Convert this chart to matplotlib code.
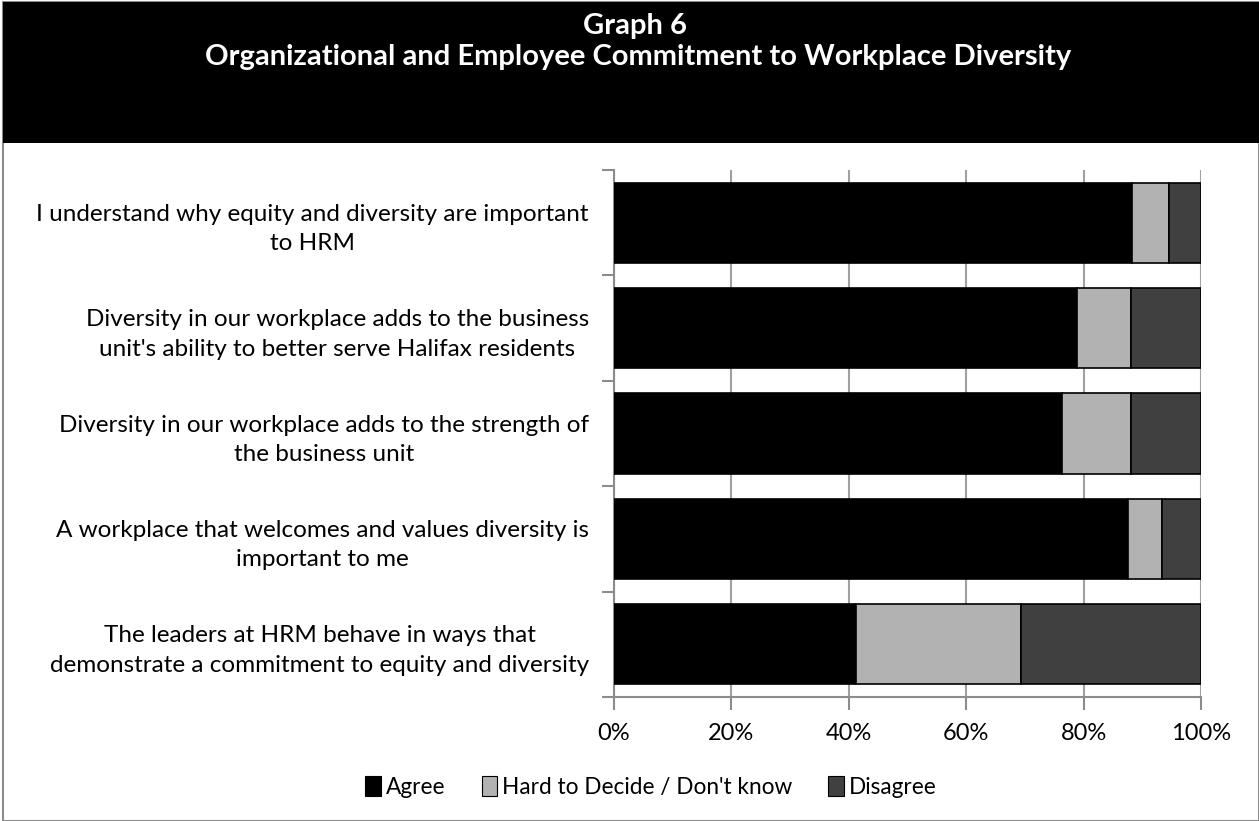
import matplotlib
matplotlib.use("Agg")
import matplotlib.pyplot as plt
from matplotlib.patches import Rectangle, Patch
import numpy as np

categories = [
    "I understand why equity and diversity are important\nto HRM",
    "Diversity in our workplace adds to the business\nunit's ability to better serve Halifax residents",
    "Diversity in our workplace adds to the strength of\nthe business unit",
    "A workplace that welcomes and values diversity is\nimportant to me",
    "The leaders at HRM behave in ways that\ndemonstrate a commitment to equity and diversity",
]
agree = [88.2, 78.8, 76.3, 87.5, 41.3]
hard = [6.4, 9.2, 11.8, 5.9, 28.0]
disagree = [5.4, 12.0, 11.9, 6.6, 30.7]
series_names = ["Agree", "Hard to Decide / Don't know", "Disagree"]
colors = ["#000000", "#b2b2b2", "#404040"]
xticks = [0, 20, 40, 60, 80, 100]
xticklabels = ["0%", "20%", "40%", "60%", "80%", "100%"]

plt.rcParams['font.family'] = ['Lato', 'DejaVu Sans']

W, H = 1259, 821
fig = plt.figure(figsize=(W / 100, H / 100), dpi=100)

# outer border and black title band
fig.patches.append(Rectangle((3 / W, 0), 1 - 3 / W, 1 - 2 / H, transform=fig.transFigure,
                             facecolor="white", edgecolor="#8c8c8c", linewidth=1.5, zorder=-2))
fig.patches.append(Rectangle((3 / W, 1 - 143 / H), 1 - 3 / W, 141 / H, transform=fig.transFigure,
                             facecolor="black", edgecolor="none", zorder=-1))
fig.text(635 / W, 1 - 26 / H, "Graph 6", color="white", fontsize=21, fontweight="bold",
         ha="center", va="center")
fig.text(638 / W, 1 - 57 / H, "Organizational and Employee Commitment to Workplace Diversity",
         color="white", fontsize=21, fontweight="bold", ha="center", va="center")

ax = fig.add_axes([614 / W, 1 - 697 / H, 587 / W, 527 / H])
ax.set_zorder(5)
y = np.arange(len(categories))
left = np.zeros(len(categories))
for vals, name, c in zip([agree, hard, disagree], series_names, colors):
    ax.barh(y, vals, left=left, height=0.76, color=c, edgecolor="black", linewidth=1.2,
            label=name, zorder=3)
    left = left + np.array(vals)

ax.set_xlim(0, 100)
ax.set_ylim(len(categories) - 0.5, -0.5)
ax.set_xticks(xticks)
ax.set_xticklabels(xticklabels, fontsize=17)
ax.set_yticks(y)
ax.set_yticklabels(categories, fontsize=17.5, ha="right", multialignment="center",
                   linespacing=1.5)
ax.tick_params(axis="y", length=0, pad=18)
ax.set_yticks(np.arange(-0.5, len(categories)), minor=True)
ax.tick_params(axis="y", which="minor", length=9, color="#8c8c8c", width=1.5)
ax.tick_params(axis="x", length=9, color="#8c8c8c", width=1.5, pad=10)
ax.grid(axis="x", color="#a0a0a0", linewidth=1.5, zorder=0)
ax.set_axisbelow(True)
ax.patch.set_alpha(0)
for s in ["top", "right"]:
    ax.spines[s].set_visible(False)
for s in ["left", "bottom"]:
    ax.spines[s].set_color("#8c8c8c")
    ax.spines[s].set_linewidth(1.5)

handles = [Patch(facecolor=c, edgecolor="black", linewidth=0.8) for c in colors]
fig.legend(handles, series_names, loc="center", bbox_to_anchor=(651 / W, 1 - 787 / H),
           ncol=3, frameon=False, fontsize=16.3, handlelength=0.7, handleheight=1.0,
           handletextpad=0.2, columnspacing=1.6)

fig.savefig("out.png", dpi=100)
